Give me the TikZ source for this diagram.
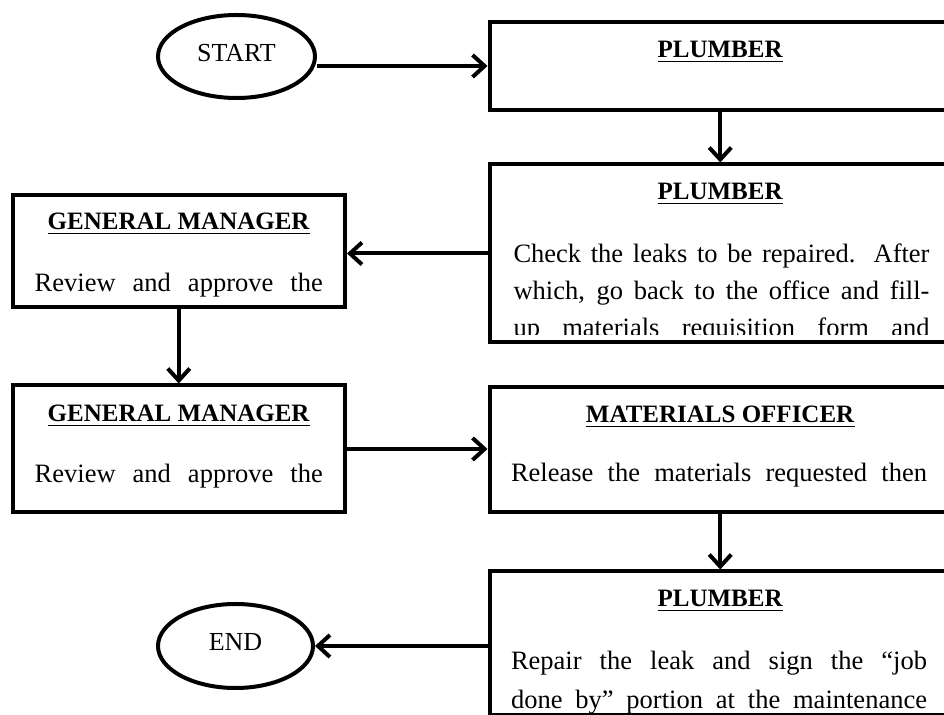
\documentclass[tikz,border=0pt]{standalone}
\usepackage{fontspec}
\setmainfont{Liberation Serif}
\usetikzlibrary{arrows.meta, shapes.geometric}
\newcommand{\ttl}[1]{\underline{\textbf{#1}}}
\newcommand{\bodyfont}{\fontsize{13.25}{16}\selectfont}
\newcommand{\rline}[1]{{\bodyfont\makebox[208pt][s]{#1}}}
\newcommand{\gline}[1]{{\bodyfont\makebox[144pt][s]{#1}}}

\begin{document}
\begin{tikzpicture}[x=0.5pt, y=-0.5pt, >={Straight Barb[length=6pt,width=11pt]},
  line width=2pt, font=\fontsize{12.5}{15}\selectfont,
  box/.style={draw, rectangle, inner sep=0pt, minimum width=230.75pt},
  gbox/.style={draw, rectangle, inner sep=0pt, minimum width=166.25pt},
  term/.style={draw, ellipse, inner sep=0pt, text depth=4pt, font=\fontsize{13}{15}\selectfont},
  txt/.style={anchor=base, inner sep=0pt}]
  \useasboundingbox (0,0) rectangle (944,715);
  \clip (0,0) rectangle (944,715);

  \node[term, minimum width=78.5pt, minimum height=41.5pt] (start) at (236.5,56.5) {START};
  \node[term, minimum width=77.5pt, minimum height=42pt] (end) at (235.5,646) {END};

  \node[box, minimum height=44pt] (p1) at (720.25,66) {};
  \node[box, minimum height=89pt] (p2) at (720.25,253.5) {};
  \node[gbox, minimum height=55.75pt] (gm1) at (178.75,251.25) {};
  \node[gbox, minimum height=63.5pt] (gm2) at (178.75,449) {};
  \node[box, minimum height=62.5pt] (mo) at (720.25,449.5) {};
  \node[box, minimum height=71.75pt] (p3) at (720.25,643.25) {};

  \draw[->] (start.east |- p1.west) -- (p1.west);
  \draw[->] (p1) -- (p2);
  \draw[->] (p2.west) -- (p2.west -| gm1.east);
  \draw[->] (gm1) -- (gm2);
  \draw[->] (gm2.east) -- (gm2.east -| mo.west);
  \draw[->] (mo) -- (p3);
  \draw[->] (end.east -| p3.west) -- (end.east);

  \node[txt] (p1t) at (720.25,58) {\ttl{PLUMBER}};

  \begin{scope}
    \clip (p2.north west) rectangle ([yshift=5pt]p2.south east);
    \node[txt] (p2t) at (720.25,200) {\ttl{PLUMBER}};
    \node[txt] (p2a) at (721.5,263) {\rline{Check the leaks to be repaired. After}};
    \node[txt] (p2b) at (721.5,300) {\rline{which, go back to the office and fill-}};
    \node[txt] (p2c) at (721.5,337) {\rline{up materials requisition form and}};
  \end{scope}

  \node[txt] (gm1t) at (178.75,230) {\ttl{GENERAL MANAGER}};
  \node[txt] (gm1a) at (178.75,292) {\gline{Review and approve the}};
  \node[txt] (gm2t) at (178.75,422) {\ttl{GENERAL MANAGER}};
  \node[txt] (gm2a) at (178.75,483) {\gline{Review and approve the}};

  \node[txt] (mot) at (720.25,423) {\ttl{MATERIALS OFFICER}};
  \node[txt] (moa) at (719,482) {\rline{Release the materials requested then}};

  \begin{scope}
    \clip (p3.north west) rectangle ([yshift=2pt]p3.south east);
    \node[txt] (p3t) at (720.25,607) {\ttl{PLUMBER}};
    \node[txt] (p3a) at (719,670) {\rline{Repair the leak and sign the “job}};
    \node[txt] (p3b) at (719,709) {\rline{done by” portion at the maintenance}};
  \end{scope}
\end{tikzpicture}
\end{document}
